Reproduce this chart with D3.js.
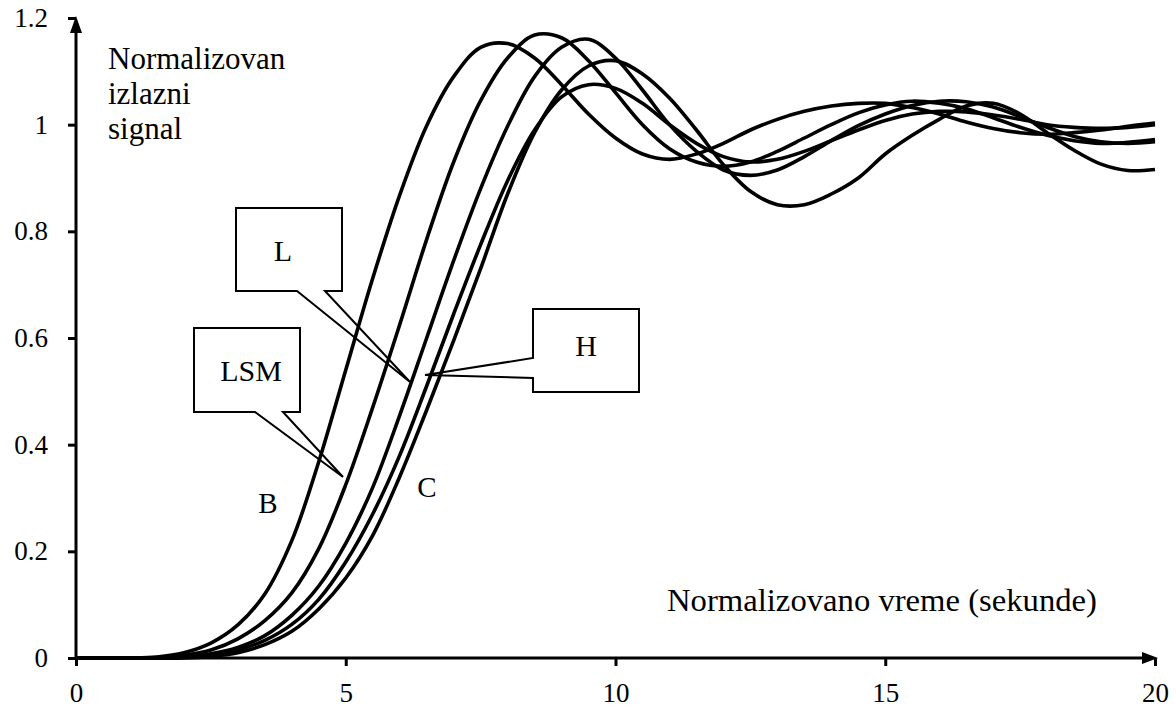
<!DOCTYPE html>
<html><head><meta charset="utf-8">
<script src="https://cdn.jsdelivr.net/npm/d3@7"></script>
<style>
body{margin:0;background:#fff}
svg text{font-family:"Liberation Serif","Times New Roman","DejaVu Serif",serif !important;fill:#000}
</style>
</head><body><svg id="c" width="1176" height="710"></svg>
<script>
const time = [0,1,1.5,2,2.5,3,3.5,4,4.5,5,5.5,6,6.5,7,7.5,8,8.5,9,9.5,10,10.5,11,11.5,12,12.5,13,13.5,14,14.5,15,15.5,16,16.5,17,17.5,18,18.5,19,19.5,20];
const seriesB   = [0,0,0.002,0.01,0.028,0.062,0.12,0.22,0.368,0.54,0.712,0.868,0.998,1.09,1.145,1.152,1.125,1.075,1.02,0.975,0.945,0.935,0.945,0.965,0.99,1.01,1.025,1.035,1.04,1.04,1.032,1.02,1.005,0.993,0.985,0.982,0.985,0.99,0.997,1.003];
const seriesLSM = [0,0,0.001,0.005,0.015,0.036,0.07,0.122,0.205,0.325,0.47,0.625,0.785,0.93,1.045,1.125,1.168,1.163,1.12,1.06,1.0,0.955,0.93,0.922,0.93,0.95,0.975,1.0,1.022,1.037,1.044,1.04,1.03,1.013,0.995,0.98,0.97,0.965,0.967,0.972];
const seriesL   = [0,0,0,0.002,0.008,0.02,0.042,0.08,0.135,0.215,0.32,0.455,0.6,0.745,0.88,0.997,1.09,1.145,1.16,1.125,1.065,1.0,0.95,0.915,0.905,0.915,0.94,0.97,0.998,1.02,1.036,1.044,1.043,1.033,1.015,0.995,0.978,0.968,0.965,0.968];
const seriesH   = [0,0,0,0.001,0.005,0.015,0.033,0.063,0.11,0.18,0.27,0.38,0.51,0.645,0.775,0.895,0.99,1.052,1.075,1.068,1.04,1.0,0.965,0.94,0.93,0.935,0.95,0.97,0.99,1.008,1.02,1.025,1.024,1.018,1.01,1.0,0.995,0.993,0.995,1.0];
const seriesC   = [0,0,0,0,0.003,0.01,0.025,0.05,0.092,0.15,0.23,0.34,0.465,0.595,0.73,0.87,0.985,1.065,1.11,1.12,1.095,1.05,0.99,0.925,0.875,0.85,0.85,0.87,0.9,0.945,0.98,1.01,1.035,1.04,1.02,0.985,0.952,0.926,0.914,0.916];
const xTicks = [0,5,10,15,20];
const yTicks = [0,0.2,0.4,0.6,0.8,1,1.2];
const yTickLabels = ["0","0.2","0.4","0.6","0.8","1","1.2"];
const yTitle = ["Normalizovan","izlazni","signal"];
const xTitle = "Normalizovano vreme  (sekunde)";

const FONT = '"Liberation Serif","Times New Roman","DejaVu Serif",serif';
const svg = d3.select("#c");
const x = d3.scaleLinear().domain([0,20]).range([76,1155]);
const y = d3.scaleLinear().domain([0,1.2]).range([658,18]);

// axes
const yAxis = d3.axisLeft(y).tickValues(yTicks).tickSize(8).tickPadding(20)
  .tickFormat((d,i)=>yTickLabels[i]);
const gy = svg.append("g").attr("transform","translate(76,0)").call(yAxis).attr("font-family",FONT);
gy.select(".domain").remove();
gy.selectAll("line").attr("stroke","#000").attr("stroke-width",3);
gy.selectAll("text").attr("font-size",27).style("font-family",FONT);

const xAxis = d3.axisBottom(x).tickValues(xTicks).tickSize(8).tickPadding(17).tickFormat(d3.format("d"));
const gx = svg.append("g").attr("transform","translate(0,658)").call(xAxis).attr("font-family",FONT);
gx.select(".domain").remove();
gx.selectAll("line").attr("stroke","#000").attr("stroke-width",3);
gx.selectAll("text").attr("font-size",27).style("font-family",FONT);

svg.append("line").attr("x1",x(0)).attr("x2",x(0)).attr("y1",y(0)).attr("y2",y(1.2)+12)
  .attr("stroke","#000").attr("stroke-width",3);
svg.append("line").attr("x1",x(0)).attr("x2",x(20)-8).attr("y1",y(0)).attr("y2",y(0))
  .attr("stroke","#000").attr("stroke-width",3);
svg.append("path").attr("d",`M${x(0)},${y(1.2)-2} L${x(0)-6},${y(1.2)+15} L${x(0)+6},${y(1.2)+15} Z`).attr("fill","#000");
svg.append("path").attr("d",`M${x(20)+3},${y(0)} L${x(20)-13},${y(0)-6} L${x(20)-13},${y(0)+6} Z`).attr("fill","#000");

// curves
const line = d3.line().x((d,i)=>x(time[i])).y(d=>y(d)).curve(d3.curveCatmullRom.alpha(0.5));
[seriesB,seriesLSM,seriesL,seriesH,seriesC].forEach(s=>{
  svg.append("path").datum(s).attr("d",line).attr("fill","none").attr("stroke","#000").attr("stroke-width",3.6);
});

// titles
svg.append("text").attr("x",108).attr("y",69).attr("font-size",31).style("font-family",FONT)
  .selectAll("tspan").data(yTitle).join("tspan").attr("x",108).attr("dy",(d,i)=>i?35:0).text(d=>d);
svg.append("text").attr("x",667).attr("y",611).attr("font-size",31).style("font-family",FONT)
  .attr("textLength",430).attr("lengthAdjust","spacingAndGlyphs").text(xTitle);

// callouts
const callouts = [
  {label:"L", path:[[236,208],[342,208],[342,291],[325,291],[410,382],[297,291],[236,291]], tx:283, ty:261},
  {label:"LSM", path:[[194,328],[300,328],[300,412],[283,412],[343,477],[255,412],[194,412]], tx:251, ty:381},
  {label:"H", path:[[533,309],[639,309],[639,392],[533,392],[533,378],[425,375],[533,358]], tx:586, ty:356}
];
callouts.forEach(c=>{
  svg.append("path").attr("d","M"+c.path.map(p=>p.join(",")).join("L")+"Z")
    .attr("fill","none").attr("stroke","#000").attr("stroke-width",2);
  svg.append("text").attr("x",c.tx).attr("y",c.ty).attr("text-anchor","middle").attr("font-size",30).style("font-family",FONT).text(c.label);
});
svg.append("text").attr("x",268).attr("y",513).attr("text-anchor","middle").attr("font-size",29).style("font-family",FONT).text("B");
svg.append("text").attr("x",427).attr("y",497).attr("text-anchor","middle").attr("font-size",29).style("font-family",FONT).text("C");
</script>
</body></html>
